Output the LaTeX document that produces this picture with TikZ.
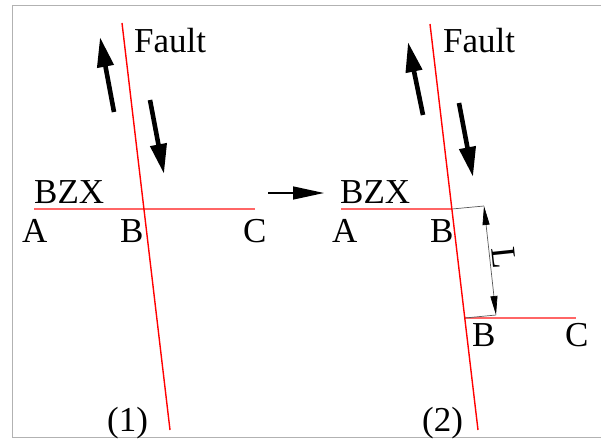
\documentclass[tikz,border=0pt]{standalone}
\usepackage{fontspec}
\setmainfont{Liberation Serif}
\usepackage{xcolor}
\usetikzlibrary{arrows.meta,positioning,calc}

\begin{document}
\begin{tikzpicture}[x=1pt, y=-1pt,
  fault/.style={red, line width=1.4pt},
  bed/.style={red!60, line width=1.1pt},
  lbl/.style={inner sep=0pt, anchor=base west, font=\fontsize{35}{40}\selectfont},
  slip/.style={line width=4.6pt, -{Triangle[length=30pt, width=16pt]}},
  dim/.style={gray!70!black, line width=0.7pt}]
  \useasboundingbox (0,0) rectangle (601,441);

  % Frame (open on the right)
  \draw[gray!60, line width=1pt] (605,6) -- (12,6) -- (12,437) -- (605,437);

  % Panel (1): before slip
  \coordinate (f1top) at (122,23);
  \coordinate (f1bot) at (170,430);
  \coordinate (b1) at (143.9,209);
  \draw[bed] (34,209) -- (b1) -- (255,209);
  \draw[fault] (f1top) -- (f1bot);
  \draw[slip] (114,112) -- (100,37);
  \draw[slip] (150,100) -- (164,174);
  \node[lbl] (fault1) at (134,53) {Fault};
  \node[lbl] (bzx1) at (34,203) {BZX};
  \node[lbl] (a1) at (22,242) {A};
  \node[lbl] (b1lbl) at (120,242) {B};
  \node[lbl] (c1) at (243,242) {C};
  \node[lbl] (n1) at (107,431) {(1)};

  % Step arrow
  \coordinate (go1) at (268,193);
  \coordinate (go2) at (324,193);
  \draw[line width=1.4pt, -{Triangle[length=31pt, width=13pt]}] (go1) -- (go2);

  % Panel (2): after slip
  \coordinate (f2top) at (430,24);
  \coordinate (f2bot) at (478,430);
  \coordinate (b2up) at (451.9,209);
  \coordinate (b2lo) at (464.8,318);
  \coordinate (d1) at (484,206);
  \coordinate (d2) at (496,315);
  \draw[bed] (341,209) -- (b2up);
  \draw[bed] (b2lo) -- (576,318);
  \draw[dim] (b2up) -- (d1);
  \draw[dim] (d2) -- (b2lo);
  \draw[dim, {Triangle[length=19pt, width=7pt, black]}-{Triangle[length=19pt, width=7pt, black]}] (d1) -- (d2);
  \node[inner sep=0pt, rotate=-84, font=\fontsize{35}{40}\selectfont] (slipL) at (504,258) {L};
  \draw[fault] (f2top) -- (f2bot);
  \draw[slip] (423,115) -- (408,42);
  \draw[slip] (459,103) -- (473,177);
  \node[lbl] (fault2) at (443,53) {Fault};
  \node[lbl] (bzx2) at (340,203) {BZX};
  \node[lbl] (a2) at (332,242) {A};
  \node[lbl] (b2lbl) at (430,242) {B};
  \node[lbl] (b3lbl) at (472,346) {B};
  \node[lbl] (c2) at (565,346) {C};
  \node[lbl] (n2) at (422,431) {(2)};
\end{tikzpicture}
\end{document}
